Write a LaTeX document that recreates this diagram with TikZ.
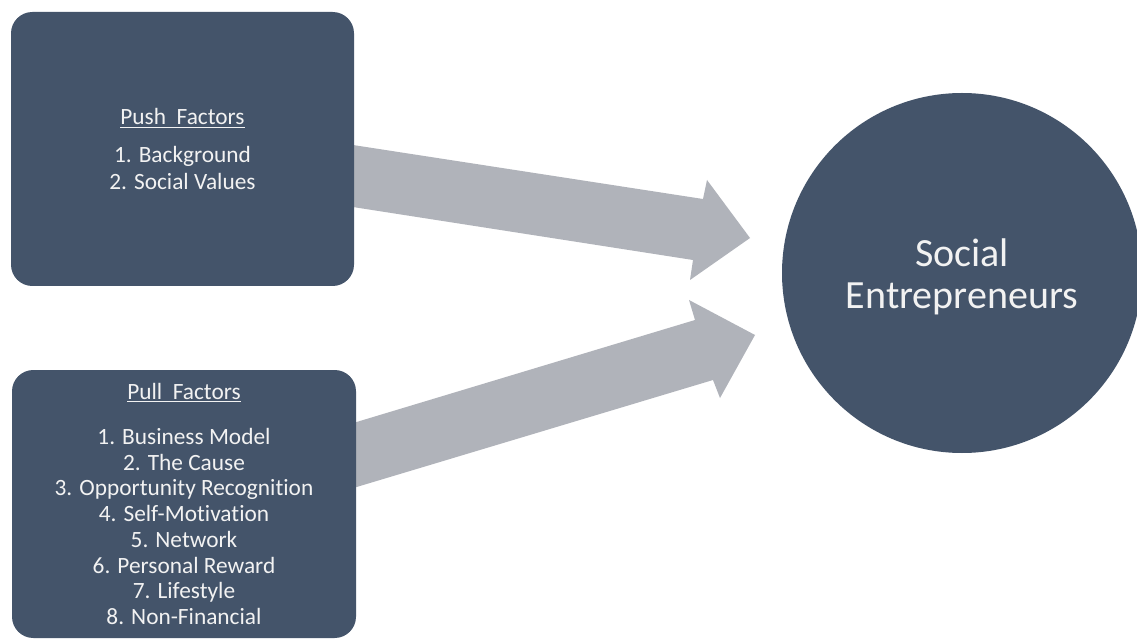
\documentclass[tikz,border=0pt]{standalone}
\usepackage{fontspec}
\setmainfont{Carlito}[Ligatures=NoCommon]
\definecolor{boxblue}{HTML}{44546A}
\definecolor{arrowgray}{RGB}{176,179,186}
\definecolor{txt}{HTML}{F2F2F2}
\begin{document}
\begin{tikzpicture}[x=0.75pt,y=-0.75pt,
  factorbox/.style={draw=none,fill=boxblue,rounded corners=16pt,text=txt,align=center,inner sep=0pt,
    font=\fontsize{17.5}{20.2}\selectfont},
  hubcircle/.style={circle,draw=none,fill=boxblue,inner sep=0pt,minimum size=270pt},
  hubtext/.style={text=txt,align=center,inner sep=0pt,font=\fontsize{30}{31.5}\selectfont},
  blockarrow/.style={fill=arrowgray,draw=none}]
\useasboundingbox (0,0) rectangle (1137,641);
\fill[white] (0,0) rectangle (1137,641);
% block arrows
\coordinate (a1) at (340,143);
\coordinate (a2) at (703,199);
\coordinate (a3) at (707,180);
\coordinate (a4) at (750,238);
\coordinate (a5) at (690,280);
\coordinate (a6) at (693,260);
\coordinate (a7) at (340,205);
\fill[blockarrow] (a1) -- (a2) -- (a3) -- (a4) -- (a5) -- (a6) -- (a7) -- cycle;
\coordinate (b1) at (340,427);
\coordinate (b2) at (695,320);
\coordinate (b3) at (689,300);
\coordinate (b4) at (755,335);
\coordinate (b5) at (720,398);
\coordinate (b6) at (713,380);
\coordinate (b7) at (340,492);
\fill[blockarrow] (b1) -- (b2) -- (b3) -- (b4) -- (b5) -- (b6) -- (b7) -- cycle;
% boxes
\node[factorbox,minimum width=257.25pt,minimum height=205.5pt] (push) at (182.5,149)
  {\underline{Push\ \ Factors}\\[8pt] 1. Background\\ 2. Social Values};
\node[factorbox,minimum width=258pt,minimum height=201pt,font=\fontsize{17.5}{19.3}\selectfont] (pull) at (184,504)
  {\underline{Pull\ \ Factors}\\[14.5pt] 1. Business Model\\ 2. The Cause\\ 3. Opportunity Recognition\\ 4. Self-Motivation\\ 5. Network\\ 6. Personal Reward\\ 7. Lifestyle\\ 8. Non-Financial};
\node[hubcircle] (hub) at (962,273) {};
\node[hubtext] (hublabel) at (962,277) {Social\\Entrepreneurs};
\end{tikzpicture}
\end{document}
